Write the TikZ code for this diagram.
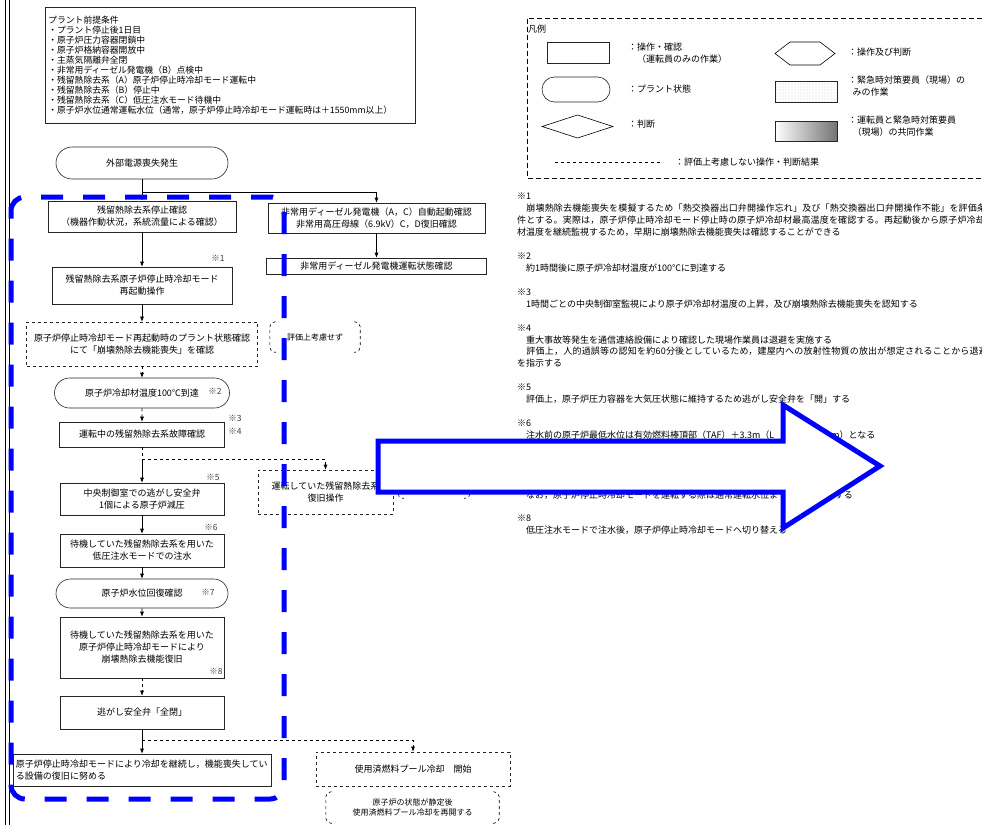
\documentclass[tikz,border=0pt]{standalone}
\usepackage{fontspec}
\setmainfont{Noto Sans CJK JP}
\usetikzlibrary{arrows.meta, shapes.misc, patterns.meta}

\begin{document}
\begin{tikzpicture}[
    x=1pt, y=-1pt,
    >={Latex[length=5pt, width=4pt]},
    every node/.style={font=\fontsize{9}{12}\selectfont, inner sep=0pt},
    op style/.style={draw=black!85, line width=0.6pt, rectangle, align=center},
    skip style/.style={draw=black!85, line width=0.6pt, dashed, rectangle, align=center},
    state style/.style={draw=black!85, line width=0.6pt, rounded rectangle, align=center},
    mark style/.style={font=\fontsize{8.5}{10}\selectfont, text=black!75},
    flow style/.style={line width=0.6pt, ->},
    skip flow style/.style={line width=0.6pt, dashed, ->},
    bracket style/.style={line width=0.6pt, dashed, rounded corners=5pt},
    frame style/.style={line width=5pt, blue, dash pattern=on 22pt off 20pt, rounded corners=14pt},
    legend text/.style={anchor=west, align=left}
]

% Page area
\clip (0,0) rectangle (982,825);
\fill[white] (0,0) rectangle (982,825);

% Double rule on the left edge
\draw[line width=1pt] (5.5,0) -- (5.5,825);
\draw[line width=1pt] (9,0) -- (9,825);

% Plant conditions
\node[draw=black!85, line width=0.6pt, anchor=north west, align=left, text width=364pt,
      inner xsep=3pt, inner ysep=4pt, minimum height=116,
      font=\fontsize{8.8}{10.1}\selectfont] (premise) at (45,7)
     {プラント前提条件\\
      ・プラント停止後1日目\\
      ・原子炉圧力容器閉鎖中\\
      ・原子炉格納容器開放中\\
      ・主蒸気隔離弁全閉\\
      ・非常用ディーゼル発電機（B）点検中\\
      ・残留熱除去系（A）原子炉停止時冷却モード運転中\\
      ・残留熱除去系（B）停止中\\
      ・残留熱除去系（C）低圧注水モード待機中\\
      ・原子炉水位通常運転水位（通常，原子炉停止時冷却モード運転時は＋1550mm以上）};

% Legend
\draw[line width=0.8pt, dash pattern=on 5pt off 3pt] (990,18) -- (527,18) -- (527,178) -- (990,178);
\node[legend text] (lgtitle) at (528,29) {凡例};
\node[op style, minimum width=62, minimum height=21] (lgop) at (578,52.5) {};
\node[legend text] at (628,53) {：操作・確認\\　（運転員のみの作業）};
\node[state style, minimum width=68, minimum height=25] (lgstate) at (576,89.5) {};
\node[legend text] at (628,89) {：プラント状態};
\draw[line width=0.6pt] (542,126.5) -- (577.5,115) -- (613,126.5) -- (577.5,138) -- cycle;
\node[legend text] at (628,124) {：判断};
\draw[line width=0.6pt] (775,53.5) -- (790,42) -- (820,42) -- (835,53.5) -- (820,65) -- (790,65) -- cycle;
\node[legend text] at (848,52) {：操作及び判断};
\node[draw=black!85, line width=0.6pt, minimum width=62, minimum height=21,
      pattern={Dots[distance=3pt, radius=0.35pt]}, pattern color=black!45] (lgfield) at (806,91.5) {};
\node[legend text] at (848,86.5) {：緊急時対策要員（現場）の\\\hspace{0.5em}みの作業};
\node[draw=black!85, line width=0.6pt, minimum width=62, minimum height=20,
      left color=white, right color=black!55] (lgjoint) at (806,131) {};
\node[legend text] at (848,126.5) {：運転員と緊急時対策要員\\\hspace{0.5em}（現場）の共同作業};
\draw[line width=0.6pt, dashed] (555,162) -- (663,162);
\node[legend text] at (675,162) {：評価上考慮しない操作・判断結果};

% Notes
\node[anchor=north west, align=left, font=\fontsize{9}{11.93}\selectfont] (notes) at (517,193)
     {※1\\
      {\addfontfeature{LetterSpace=2.2}　崩壊熱除去機能喪失を模擬するため「熱交換器出口弁開操作忘れ」及び「熱交換器出口弁開操作不能」を評価条}\\
      {\addfontfeature{LetterSpace=2}件とする。実際は，原子炉停止時冷却モード停止時の原子炉冷却材最高温度を確認する。再起動後から原子炉冷却}\\
      材温度を継続監視するため，早期に崩壊熱除去機能喪失は確認することができる\\[11.93pt]
      ※2\\
      　約1時間後に原子炉冷却材温度が100℃に到達する\\[11.93pt]
      ※3\\
      　1時間ごとの中央制御室監視により原子炉冷却材温度の上昇，及び崩壊熱除去機能喪失を認知する\\[11.93pt]
      ※4\\
      　重大事故等発生を通信連絡設備により確認した現場作業員は退避を実施する\\
      {\addfontfeature{LetterSpace=2.5}　評価上，人的過誤等の認知を約60分後としているため，建屋内への放射性物質の放出が想定されることから退避}\\
      を指示する\\[11.93pt]
      ※5\\
      　評価上，原子炉圧力容器を大気圧状態に維持するため逃がし安全弁を「開」する\\[11.93pt]
      ※6\\
      　注水前の原子炉最低水位は有効燃料棒頂部（TAF）＋3.3m（L\hspace{4.3em}00mm）となる\\[47.7pt]
      　なお，原子炉停止時冷却モードを運転する際は通常運転水位ま\hspace{6.3em}する\\[11.93pt]
      ※8\\
      　低圧注水モードで注水後，原子炉停止時冷却モードへ切り替える};

% Main sequence
\node[state style, minimum width=172, minimum height=32] (start) at (142,163) {外部電源喪失発生};
\node[op style, minimum width=188, minimum height=31] (chk) at (142,216.5)
     {残留熱除去系停止確認\\（機器作動状況，系統流量による確認）};
\node[op style, minimum width=180, minimum height=37] (restart) at (142,285.5)
     {残留熱除去系原子炉停止時冷却モード\\再起動操作};
\node[skip style, minimum width=231, minimum height=44] (plantchk) at (142,344)
     {原子炉停止時冷却モード再起動時のプラント状態確認\\にて「崩壊熱除去機能喪失」を確認};
\node[state style, minimum width=175, minimum height=30] (temp) at (142,393) {原子炉冷却材温度100℃到達};
\node[op style, minimum width=165, minimum height=25] (fault) at (142,434.5) {運転中の残留熱除去系故障確認};
\node[op style, minimum width=164, minimum height=32] (depress) at (142,499)
     {中央制御室での逃がし安全弁\\1個による原子炉減圧};
\node[op style, minimum width=164, minimum height=33] (inject) at (142,550.5)
     {待機していた残留熱除去系を用いた\\低圧注水モードでの注水};
\node[state style, minimum width=172, minimum height=29] (level) at (142,593.5) {原子炉水位回復確認};
\node[op style, minimum width=164, minimum height=61] (recover) at (142,647.5)
     {待機していた残留熱除去系を用いた\\原子炉停止時冷却モードにより\\崩壊熱除去機能復旧};
\node[op style, minimum width=164, minimum height=33] (srvclose) at (142,712.5) {逃がし安全弁「全閉」};
\node[op style, minimum width=258, minimum height=32, text width=252, align=left] (cont) at (142,770)
     {原子炉停止時冷却モードにより冷却を継続し，機能喪失してい\\る設備の復旧に努める};

% Side branches
\node[op style, minimum width=217, minimum height=30] (edg) at (376.5,218)
     {非常用ディーゼル発電機（A，C）自動起動確認\\非常用高圧母線（6.9kV）C，D復旧確認};
\node[op style, minimum width=220, minimum height=16] (edgrun) at (376.5,266) {非常用ディーゼル発電機運転状態確認};
\node[minimum width=90, minimum height=30, font=\fontsize{8}{10}\selectfont] (noteval) at (315,337) {評価上考慮せず};
\node[skip style, minimum width=135, minimum height=44] (restore) at (325.5,492)
     {運転していた残留熱除去系\\復旧操作};
\node[minimum width=72, minimum height=30] (hidnote) at (434,483) {};
\node[skip style, minimum width=194, minimum height=34] (poolstart) at (413,769) {使用済燃料プール冷却　開始};
\node[minimum width=173, minimum height=31, align=center, font=\fontsize{8}{10}\selectfont] (poolnote) at (412.5,807.5)
     {原子炉の状態が静定後\\使用済燃料プール冷却を再開する};

% Bracket outlines of the notes
\foreach \n in {noteval, hidnote, poolnote} {
    \draw[bracket style] ([xshift=6pt]\n.north west) -- (\n.north west) -- (\n.south west) -- ([xshift=6pt]\n.south west);
    \draw[bracket style] ([xshift=-6pt]\n.north east) -- (\n.north east) -- (\n.south east) -- ([xshift=-6pt]\n.south east);
}

% Footnote marks
\node[mark style] (m1) at (218,258) {※1};
\node[mark style] (m2) at (215,391) {※2};
\node[mark style] (m3) at (235,418) {※3};
\node[mark style] (m4) at (235,431) {※4};
\node[mark style] (m5) at (213,477) {※5};
\node[mark style] (m6) at (211,527) {※6};
\node[mark style] (m7) at (208,592) {※7};
\node[mark style] (m8) at (216,671) {※8};

% Branch points
\coordinate (b1) at (142,192);
\coordinate (b2) at (142,459);
\coordinate (b3) at (142,740);

% Connectors
\draw[line width=0.6pt] (start) -- (b1);
\draw[flow style] (b1) -- (chk);
\draw[flow style] (b1) -| (edg);
\draw[flow style] (edg) -- (edgrun);
\draw[flow style] (chk) -- (restart);
\draw[flow style] (restart) -- (plantchk);
\draw[skip flow style] (plantchk) -- (temp);
\draw[skip flow style] (temp) -- (fault);
\draw[line width=0.6pt, dashed] (fault) -- (b2);
\draw[skip flow style] (b2) -| (restore);
\draw[flow style] (b2) -- (depress);
\draw[flow style] (depress) -- (inject);
\draw[flow style] (inject) -- (level);
\draw[flow style] (level) -- (recover);
\draw[skip flow style] (recover) -- (srvclose);
\draw[line width=0.6pt] (srvclose) -- (b3);
\draw[skip flow style] (b3) -| (poolstart);
\draw[flow style] (b3) -- (cont);

% Blue frame round the operator steps
\draw[frame style] (11,221) -- (11,197) -- (284,197) -- (284,799) -- (11,799) -- cycle;

% Big blue arrow
\draw[blue, line width=5pt, fill=white, line join=miter]
    (378,441) -- (783,441) -- (783,405) -- (880,466) -- (783,528) -- (783,492) -- (378,492) -- cycle;

\end{tikzpicture}
\end{document}
